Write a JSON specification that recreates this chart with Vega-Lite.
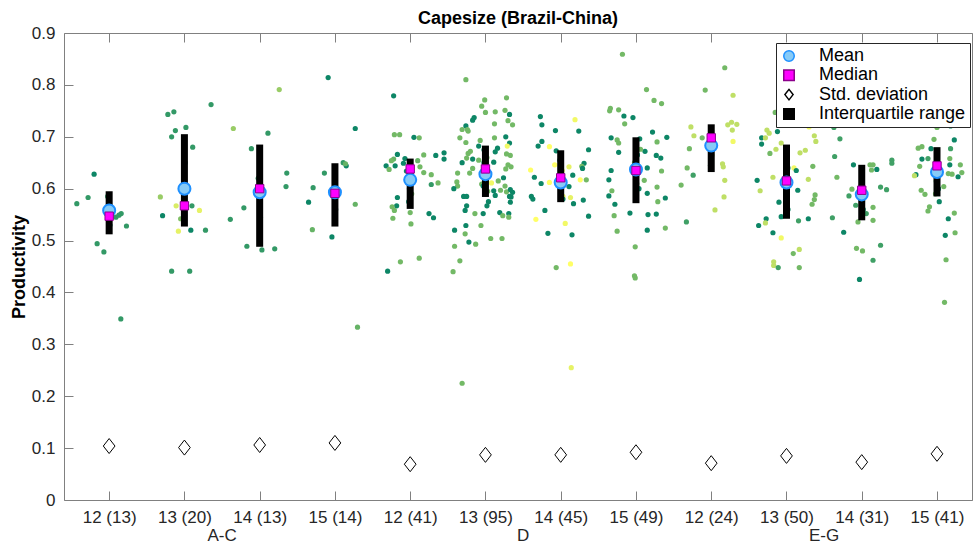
{
  "$schema": "https://vega.github.io/schema/vega-lite/v6.json",
  "autosize": {"type": "none"},
  "width": 908,
  "height": 467,
  "padding": {"left": 64, "top": 33, "right": 1, "bottom": 45},
  "background": "white",
  "title": {
    "text": "Capesize (Brazil-China)",
    "font": "Liberation Sans",
    "fontSize": 18,
    "fontWeight": "bold",
    "color": "black",
    "anchor": "middle",
    "frame": "group",
    "offset": -4
  },
  "datasets": {
    "pts": [
      {"x": 0.80, "y": 0.628, "c": 0.05}, {"x": 0.72, "y": 0.583, "c": 0.2}, {"x": 0.57, "y": 0.571, "c": 0.2},
      {"x": 1.16, "y": 0.552, "c": 0.2}, {"x": 1.13, "y": 0.549, "c": 0.2}, {"x": 1.09, "y": 0.545, "c": 0.2},
      {"x": 1.23, "y": 0.528, "c": 0.2}, {"x": 0.84, "y": 0.494, "c": 0.2}, {"x": 0.93, "y": 0.478, "c": 0.2},
      {"x": 1.155, "y": 0.349, "c": 0.2}, {"x": 1.02, "y": 0.565, "c": 0.2}, {"x": 0.98, "y": 0.585, "c": 0.2},
      {"x": 1.01, "y": 0.530, "c": 0.05},

      {"x": 2.354, "y": 0.762, "c": 0.2}, {"x": 1.78, "y": 0.743, "c": 0.2}, {"x": 1.86, "y": 0.748, "c": 0.2},
      {"x": 1.88, "y": 0.712, "c": 0.2}, {"x": 2.02, "y": 0.718, "c": 0.2}, {"x": 1.83, "y": 0.700, "c": 0.2},
      {"x": 2.11, "y": 0.680, "c": 0.2}, {"x": 1.68, "y": 0.584, "c": 0.6}, {"x": 1.89, "y": 0.567, "c": 0.85},
      {"x": 2.10, "y": 0.567, "c": 0.2}, {"x": 2.20, "y": 0.558, "c": 0.9}, {"x": 1.71, "y": 0.548, "c": 0.05},
      {"x": 1.95, "y": 0.542, "c": 0.5}, {"x": 1.92, "y": 0.518, "c": 0.9}, {"x": 2.085, "y": 0.520, "c": 0.05},
      {"x": 2.28, "y": 0.520, "c": 0.2}, {"x": 1.83, "y": 0.441, "c": 0.2}, {"x": 2.07, "y": 0.441, "c": 0.2},
      {"x": 2.01, "y": 0.650, "c": 0.2}, {"x": 1.99, "y": 0.612, "c": 0.2},

      {"x": 3.26, "y": 0.791, "c": 0.6}, {"x": 2.65, "y": 0.716, "c": 0.6}, {"x": 3.11, "y": 0.707, "c": 0.2},
      {"x": 2.89, "y": 0.677, "c": 0.2}, {"x": 3.36, "y": 0.630, "c": 0.2}, {"x": 3.35, "y": 0.604, "c": 0.2},
      {"x": 2.79, "y": 0.563, "c": 0.2}, {"x": 2.61, "y": 0.541, "c": 0.2}, {"x": 2.83, "y": 0.489, "c": 0.2},
      {"x": 3.03, "y": 0.482, "c": 0.2}, {"x": 3.20, "y": 0.484, "c": 0.2}, {"x": 2.98, "y": 0.620, "c": 0.2},
      {"x": 3.01, "y": 0.545, "c": 0.2},

      {"x": 3.91, "y": 0.814, "c": 0.05}, {"x": 4.27, "y": 0.716, "c": 0.05}, {"x": 4.11, "y": 0.650, "c": 0.2},
      {"x": 4.15, "y": 0.644, "c": 0.05}, {"x": 4.14, "y": 0.648, "c": 0.4}, {"x": 3.86, "y": 0.630, "c": 0.2},
      {"x": 3.71, "y": 0.602, "c": 0.2}, {"x": 3.65, "y": 0.574, "c": 0.05}, {"x": 4.27, "y": 0.570, "c": 0.4},
      {"x": 3.70, "y": 0.521, "c": 0.4}, {"x": 3.96, "y": 0.507, "c": 0.05}, {"x": 4.30, "y": 0.333, "c": 0.4},
      {"x": 4.00, "y": 0.600, "c": 0.2}, {"x": 4.01, "y": 0.560, "c": 0.2},

      {"x": 4.78, "y": 0.779, "c": 0.05}, {"x": 4.79, "y": 0.704, "c": 0.45}, {"x": 4.86, "y": 0.704, "c": 0.45},
      {"x": 5.05, "y": 0.699, "c": 0.05}, {"x": 5.12, "y": 0.698, "c": 0.45}, {"x": 4.83, "y": 0.666, "c": 0.05},
      {"x": 4.93, "y": 0.658, "c": 0.05}, {"x": 4.78, "y": 0.657, "c": 0.4}, {"x": 4.75, "y": 0.654, "c": 0.45},
      {"x": 4.68, "y": 0.644, "c": 0.05}, {"x": 4.72, "y": 0.637, "c": 0.45}, {"x": 4.80, "y": 0.644, "c": 0.05},
      {"x": 4.91, "y": 0.649, "c": 0.05}, {"x": 4.95, "y": 0.634, "c": 0.05}, {"x": 5.10, "y": 0.654, "c": 0.4},
      {"x": 5.13, "y": 0.642, "c": 0.45}, {"x": 5.18, "y": 0.665, "c": 0.45}, {"x": 5.18, "y": 0.631, "c": 0.45},
      {"x": 5.28, "y": 0.627, "c": 0.45}, {"x": 5.34, "y": 0.664, "c": 0.05}, {"x": 5.45, "y": 0.669, "c": 0.05},
      {"x": 5.45, "y": 0.657, "c": 0.05}, {"x": 5.28, "y": 0.608, "c": 0.2}, {"x": 5.37, "y": 0.611, "c": 0.45},
      {"x": 4.83, "y": 0.583, "c": 0.05}, {"x": 4.82, "y": 0.567, "c": 0.05}, {"x": 4.76, "y": 0.565, "c": 0.45},
      {"x": 4.79, "y": 0.558, "c": 0.45}, {"x": 5.00, "y": 0.554, "c": 0.45}, {"x": 4.77, "y": 0.543, "c": 0.45},
      {"x": 5.25, "y": 0.552, "c": 0.05}, {"x": 5.31, "y": 0.544, "c": 0.05}, {"x": 5.01, "y": 0.532, "c": 0.45},
      {"x": 4.87, "y": 0.459, "c": 0.45}, {"x": 5.12, "y": 0.466, "c": 0.45}, {"x": 4.70, "y": 0.441, "c": 0.05},
      {"x": 5.01, "y": 0.620, "c": 0.45}, {"x": 4.99, "y": 0.600, "c": 0.05}, {"x": 5.02, "y": 0.590, "c": 0.45},
      {"x": 4.98, "y": 0.575, "c": 0.05}, {"x": 5.00, "y": 0.645, "c": 0.45},

      {"x": 5.74, "y": 0.810, "c": 0.45}, {"x": 5.99, "y": 0.771, "c": 0.45}, {"x": 6.28, "y": 0.775, "c": 0.45},
      {"x": 5.95, "y": 0.759, "c": 0.45}, {"x": 6.00, "y": 0.747, "c": 0.45}, {"x": 6.13, "y": 0.748, "c": 0.45},
      {"x": 6.26, "y": 0.751, "c": 0.45}, {"x": 6.32, "y": 0.743, "c": 0.05}, {"x": 5.85, "y": 0.737, "c": 0.05},
      {"x": 5.83, "y": 0.732, "c": 0.05}, {"x": 6.12, "y": 0.725, "c": 0.45}, {"x": 6.30, "y": 0.731, "c": 0.45},
      {"x": 6.36, "y": 0.723, "c": 0.45}, {"x": 5.74, "y": 0.721, "c": 0.05}, {"x": 5.69, "y": 0.714, "c": 0.45},
      {"x": 5.76, "y": 0.714, "c": 0.45}, {"x": 5.77, "y": 0.711, "c": 0.45}, {"x": 5.66, "y": 0.698, "c": 0.45},
      {"x": 5.74, "y": 0.689, "c": 0.45}, {"x": 5.93, "y": 0.693, "c": 0.45}, {"x": 6.12, "y": 0.698, "c": 0.45},
      {"x": 6.27, "y": 0.700, "c": 0.05}, {"x": 6.32, "y": 0.688, "c": 0.05}, {"x": 5.91, "y": 0.682, "c": 0.05},
      {"x": 6.29, "y": 0.682, "c": 0.95}, {"x": 6.16, "y": 0.678, "c": 0.05}, {"x": 6.13, "y": 0.671, "c": 0.05},
      {"x": 6.28, "y": 0.667, "c": 0.45}, {"x": 6.33, "y": 0.664, "c": 0.45}, {"x": 5.80, "y": 0.672, "c": 0.45},
      {"x": 5.77, "y": 0.668, "c": 0.45}, {"x": 5.75, "y": 0.659, "c": 0.45}, {"x": 5.83, "y": 0.657, "c": 0.05},
      {"x": 5.91, "y": 0.655, "c": 0.45}, {"x": 5.69, "y": 0.650, "c": 0.05}, {"x": 6.11, "y": 0.651, "c": 0.05},
      {"x": 5.83, "y": 0.639, "c": 0.45}, {"x": 5.63, "y": 0.630, "c": 0.45}, {"x": 5.79, "y": 0.630, "c": 0.45},
      {"x": 6.30, "y": 0.646, "c": 0.45}, {"x": 6.34, "y": 0.642, "c": 0.45}, {"x": 6.27, "y": 0.638, "c": 0.45},
      {"x": 6.24, "y": 0.621, "c": 0.05}, {"x": 6.17, "y": 0.615, "c": 0.45}, {"x": 6.08, "y": 0.611, "c": 0.95},
      {"x": 5.95, "y": 0.609, "c": 0.45}, {"x": 5.62, "y": 0.613, "c": 0.45}, {"x": 5.63, "y": 0.605, "c": 0.45},
      {"x": 5.58, "y": 0.600, "c": 0.05}, {"x": 6.26, "y": 0.605, "c": 0.45}, {"x": 6.20, "y": 0.597, "c": 0.45},
      {"x": 6.11, "y": 0.596, "c": 0.05}, {"x": 6.13, "y": 0.587, "c": 0.05}, {"x": 6.28, "y": 0.594, "c": 0.45},
      {"x": 6.33, "y": 0.598, "c": 0.05}, {"x": 6.36, "y": 0.593, "c": 0.05}, {"x": 6.32, "y": 0.585, "c": 0.05},
      {"x": 6.34, "y": 0.584, "c": 0.05}, {"x": 6.33, "y": 0.574, "c": 0.05}, {"x": 5.71, "y": 0.585, "c": 0.05},
      {"x": 5.75, "y": 0.585, "c": 0.05}, {"x": 5.75, "y": 0.567, "c": 0.05}, {"x": 5.73, "y": 0.558, "c": 0.05},
      {"x": 6.02, "y": 0.567, "c": 0.05}, {"x": 5.86, "y": 0.552, "c": 0.45}, {"x": 5.97, "y": 0.552, "c": 0.05},
      {"x": 6.19, "y": 0.554, "c": 0.05}, {"x": 6.23, "y": 0.548, "c": 0.45}, {"x": 6.31, "y": 0.552, "c": 0.05},
      {"x": 6.31, "y": 0.545, "c": 0.45}, {"x": 5.74, "y": 0.529, "c": 0.05}, {"x": 5.94, "y": 0.529, "c": 0.45},
      {"x": 5.59, "y": 0.520, "c": 0.05}, {"x": 5.73, "y": 0.513, "c": 0.45}, {"x": 5.78, "y": 0.497, "c": 0.05},
      {"x": 5.87, "y": 0.493, "c": 0.45}, {"x": 6.07, "y": 0.504, "c": 0.45}, {"x": 6.22, "y": 0.504, "c": 0.45},
      {"x": 5.59, "y": 0.489, "c": 0.45}, {"x": 5.66, "y": 0.461, "c": 0.45}, {"x": 5.57, "y": 0.440, "c": 0.45},
      {"x": 5.69, "y": 0.225, "c": 0.45}, {"x": 6.00, "y": 0.665, "c": 0.45}, {"x": 5.98, "y": 0.650, "c": 0.05},
      {"x": 6.02, "y": 0.640, "c": 0.45}, {"x": 5.99, "y": 0.625, "c": 0.05}, {"x": 6.01, "y": 0.615, "c": 0.45},
      {"x": 5.97, "y": 0.605, "c": 0.05}, {"x": 6.03, "y": 0.595, "c": 0.45}, {"x": 6.00, "y": 0.590, "c": 0.05},
      {"x": 5.98, "y": 0.675, "c": 0.05}, {"x": 6.02, "y": 0.660, "c": 0.45}, {"x": 6.01, "y": 0.632, "c": 0.05},
      {"x": 5.99, "y": 0.612, "c": 0.45}, {"x": 6.04, "y": 0.575, "c": 0.05},

      {"x": 6.73, "y": 0.739, "c": 0.05}, {"x": 6.75, "y": 0.723, "c": 0.05}, {"x": 7.19, "y": 0.733, "c": 0.95},
      {"x": 6.93, "y": 0.712, "c": 0.05}, {"x": 7.24, "y": 0.711, "c": 0.05}, {"x": 6.75, "y": 0.691, "c": 0.05},
      {"x": 6.70, "y": 0.682, "c": 0.05}, {"x": 6.85, "y": 0.681, "c": 1.0}, {"x": 6.94, "y": 0.673, "c": 0.05},
      {"x": 7.37, "y": 0.675, "c": 0.05}, {"x": 6.92, "y": 0.646, "c": 1.0}, {"x": 7.11, "y": 0.642, "c": 0.9},
      {"x": 7.31, "y": 0.649, "c": 0.05}, {"x": 7.28, "y": 0.643, "c": 0.45}, {"x": 7.29, "y": 0.639, "c": 0.05},
      {"x": 6.60, "y": 0.636, "c": 1.0}, {"x": 7.16, "y": 0.626, "c": 0.05}, {"x": 6.65, "y": 0.622, "c": 0.05},
      {"x": 7.26, "y": 0.617, "c": 1.0}, {"x": 7.34, "y": 0.617, "c": 0.45}, {"x": 6.74, "y": 0.610, "c": 0.05},
      {"x": 6.85, "y": 0.612, "c": 1.0}, {"x": 7.11, "y": 0.604, "c": 0.05}, {"x": 6.61, "y": 0.585, "c": 0.05},
      {"x": 6.63, "y": 0.580, "c": 0.05}, {"x": 7.13, "y": 0.583, "c": 0.9}, {"x": 7.30, "y": 0.578, "c": 0.05},
      {"x": 7.17, "y": 0.571, "c": 0.05}, {"x": 7.03, "y": 0.585, "c": 0.9}, {"x": 6.79, "y": 0.558, "c": 0.05},
      {"x": 7.37, "y": 0.547, "c": 0.05}, {"x": 6.67, "y": 0.541, "c": 1.0}, {"x": 7.06, "y": 0.533, "c": 0.95},
      {"x": 6.83, "y": 0.514, "c": 0.05}, {"x": 7.15, "y": 0.511, "c": 0.05}, {"x": 6.94, "y": 0.448, "c": 0.45},
      {"x": 7.13, "y": 0.455, "c": 1.0}, {"x": 7.14, "y": 0.255, "c": 0.9}, {"x": 7.00, "y": 0.600, "c": 0.05},
      {"x": 6.98, "y": 0.625, "c": 0.05}, {"x": 7.02, "y": 0.635, "c": 0.9}, {"x": 7.01, "y": 0.590, "c": 0.05},
      {"x": 6.99, "y": 0.655, "c": 0.05}, {"x": 7.03, "y": 0.580, "c": 0.05}, {"x": 7.00, "y": 0.665, "c": 0.45},

      {"x": 7.82, "y": 0.859, "c": 0.45}, {"x": 8.14, "y": 0.791, "c": 0.45}, {"x": 8.24, "y": 0.770, "c": 0.45},
      {"x": 8.34, "y": 0.764, "c": 0.45}, {"x": 7.66, "y": 0.755, "c": 0.45}, {"x": 7.65, "y": 0.750, "c": 0.45},
      {"x": 7.77, "y": 0.752, "c": 0.45}, {"x": 7.84, "y": 0.740, "c": 0.05}, {"x": 7.96, "y": 0.737, "c": 0.05},
      {"x": 7.85, "y": 0.725, "c": 0.45}, {"x": 8.22, "y": 0.709, "c": 0.05}, {"x": 7.67, "y": 0.698, "c": 0.05},
      {"x": 7.75, "y": 0.694, "c": 0.45}, {"x": 7.77, "y": 0.688, "c": 0.45}, {"x": 8.05, "y": 0.696, "c": 0.05},
      {"x": 8.41, "y": 0.699, "c": 0.05}, {"x": 8.28, "y": 0.690, "c": 0.45}, {"x": 8.12, "y": 0.672, "c": 0.05},
      {"x": 7.77, "y": 0.670, "c": 0.05}, {"x": 8.27, "y": 0.664, "c": 0.05}, {"x": 8.33, "y": 0.659, "c": 0.05},
      {"x": 8.06, "y": 0.676, "c": 0.45}, {"x": 7.67, "y": 0.635, "c": 0.05}, {"x": 8.15, "y": 0.640, "c": 0.05},
      {"x": 8.34, "y": 0.634, "c": 0.45}, {"x": 7.64, "y": 0.617, "c": 0.05}, {"x": 8.11, "y": 0.616, "c": 0.45},
      {"x": 8.28, "y": 0.603, "c": 0.45}, {"x": 7.68, "y": 0.596, "c": 0.45}, {"x": 8.04, "y": 0.600, "c": 0.05},
      {"x": 7.64, "y": 0.586, "c": 0.05}, {"x": 8.15, "y": 0.591, "c": 0.05}, {"x": 8.39, "y": 0.582, "c": 0.05},
      {"x": 8.29, "y": 0.575, "c": 0.45}, {"x": 7.72, "y": 0.570, "c": 0.05}, {"x": 7.71, "y": 0.548, "c": 0.45},
      {"x": 7.92, "y": 0.553, "c": 0.05}, {"x": 8.16, "y": 0.550, "c": 0.05}, {"x": 8.27, "y": 0.551, "c": 0.05},
      {"x": 7.75, "y": 0.518, "c": 0.45}, {"x": 8.15, "y": 0.520, "c": 0.05}, {"x": 8.39, "y": 0.524, "c": 0.45},
      {"x": 7.99, "y": 0.488, "c": 0.45}, {"x": 7.98, "y": 0.432, "c": 0.45}, {"x": 7.99, "y": 0.428, "c": 0.45},
      {"x": 8.00, "y": 0.620, "c": 0.05}, {"x": 7.98, "y": 0.650, "c": 0.45}, {"x": 8.02, "y": 0.665, "c": 0.05},
      {"x": 8.01, "y": 0.610, "c": 0.45},

      {"x": 9.18, "y": 0.833, "c": 0.45}, {"x": 8.92, "y": 0.790, "c": 0.45}, {"x": 9.29, "y": 0.780, "c": 0.75},
      {"x": 8.73, "y": 0.719, "c": 0.75}, {"x": 8.77, "y": 0.702, "c": 0.75}, {"x": 8.88, "y": 0.698, "c": 0.45},
      {"x": 8.71, "y": 0.677, "c": 0.45}, {"x": 9.22, "y": 0.723, "c": 0.75}, {"x": 9.27, "y": 0.728, "c": 0.75},
      {"x": 9.34, "y": 0.724, "c": 0.75}, {"x": 9.28, "y": 0.713, "c": 0.75}, {"x": 9.29, "y": 0.691, "c": 0.95},
      {"x": 8.68, "y": 0.640, "c": 0.45}, {"x": 8.76, "y": 0.626, "c": 0.25}, {"x": 8.60, "y": 0.607, "c": 0.45},
      {"x": 9.15, "y": 0.648, "c": 0.75}, {"x": 9.16, "y": 0.642, "c": 0.75}, {"x": 9.18, "y": 0.616, "c": 0.75},
      {"x": 9.17, "y": 0.584, "c": 0.75}, {"x": 9.05, "y": 0.559, "c": 0.75}, {"x": 8.67, "y": 0.536, "c": 0.25},
      {"x": 9.00, "y": 0.690, "c": 0.45}, {"x": 9.01, "y": 0.665, "c": 0.75}, {"x": 8.99, "y": 0.645, "c": 0.25},

      {"x": 9.85, "y": 0.747, "c": 0.45}, {"x": 9.74, "y": 0.713, "c": 0.75}, {"x": 9.88, "y": 0.710, "c": 0.05},
      {"x": 9.67, "y": 0.698, "c": 0.05}, {"x": 9.72, "y": 0.698, "c": 0.75}, {"x": 9.77, "y": 0.707, "c": 0.75},
      {"x": 9.67, "y": 0.686, "c": 0.05}, {"x": 9.93, "y": 0.688, "c": 0.75}, {"x": 9.86, "y": 0.676, "c": 0.75},
      {"x": 9.78, "y": 0.668, "c": 0.45}, {"x": 10.18, "y": 0.669, "c": 0.75}, {"x": 10.25, "y": 0.674, "c": 0.75},
      {"x": 10.30, "y": 0.719, "c": 0.95}, {"x": 10.37, "y": 0.702, "c": 0.75}, {"x": 10.39, "y": 0.691, "c": 0.75},
      {"x": 10.35, "y": 0.643, "c": 0.45}, {"x": 10.10, "y": 0.640, "c": 0.95}, {"x": 10.13, "y": 0.635, "c": 0.05},
      {"x": 9.82, "y": 0.622, "c": 0.75}, {"x": 9.61, "y": 0.616, "c": 0.05}, {"x": 10.29, "y": 0.618, "c": 0.75},
      {"x": 9.65, "y": 0.596, "c": 0.75}, {"x": 10.15, "y": 0.597, "c": 0.05}, {"x": 10.38, "y": 0.588, "c": 0.45},
      {"x": 10.37, "y": 0.579, "c": 0.45}, {"x": 10.34, "y": 0.570, "c": 0.45}, {"x": 9.90, "y": 0.574, "c": 0.05},
      {"x": 9.73, "y": 0.542, "c": 0.05}, {"x": 9.63, "y": 0.529, "c": 0.05}, {"x": 9.72, "y": 0.534, "c": 0.75},
      {"x": 9.93, "y": 0.546, "c": 0.05}, {"x": 10.16, "y": 0.538, "c": 0.25}, {"x": 10.29, "y": 0.542, "c": 0.05},
      {"x": 9.82, "y": 0.515, "c": 0.05}, {"x": 9.93, "y": 0.505, "c": 0.95}, {"x": 10.17, "y": 0.483, "c": 0.75},
      {"x": 10.09, "y": 0.475, "c": 0.45}, {"x": 9.83, "y": 0.459, "c": 0.75}, {"x": 9.83, "y": 0.452, "c": 0.75},
      {"x": 9.89, "y": 0.448, "c": 0.25}, {"x": 10.17, "y": 0.448, "c": 0.45}, {"x": 10.00, "y": 0.660, "c": 0.75},
      {"x": 10.02, "y": 0.640, "c": 0.05}, {"x": 9.98, "y": 0.620, "c": 0.45}, {"x": 10.01, "y": 0.600, "c": 0.05},
      {"x": 9.99, "y": 0.580, "c": 0.75}, {"x": 10.02, "y": 0.560, "c": 0.05}, {"x": 10.00, "y": 0.775, "c": 0.45},
      {"x": 10.20, "y": 0.760, "c": 0.75}, {"x": 9.95, "y": 0.800, "c": 0.45},

      {"x": 10.63, "y": 0.718, "c": 0.25}, {"x": 10.71, "y": 0.696, "c": 0.25}, {"x": 10.64, "y": 0.662, "c": 0.25},
      {"x": 10.89, "y": 0.646, "c": 0.05}, {"x": 11.11, "y": 0.646, "c": 0.45}, {"x": 11.15, "y": 0.646, "c": 0.45},
      {"x": 11.20, "y": 0.637, "c": 0.05}, {"x": 11.13, "y": 0.636, "c": 0.45}, {"x": 11.40, "y": 0.655, "c": 0.25},
      {"x": 11.40, "y": 0.649, "c": 0.25}, {"x": 10.67, "y": 0.622, "c": 0.45}, {"x": 11.25, "y": 0.603, "c": 0.25},
      {"x": 11.33, "y": 0.598, "c": 0.25}, {"x": 10.87, "y": 0.599, "c": 0.45}, {"x": 10.83, "y": 0.586, "c": 0.25},
      {"x": 10.92, "y": 0.568, "c": 0.25}, {"x": 11.15, "y": 0.564, "c": 0.45}, {"x": 11.06, "y": 0.552, "c": 0.25},
      {"x": 10.61, "y": 0.544, "c": 0.25}, {"x": 10.95, "y": 0.536, "c": 0.45}, {"x": 11.15, "y": 0.539, "c": 0.45},
      {"x": 10.76, "y": 0.516, "c": 0.05}, {"x": 10.93, "y": 0.485, "c": 0.45}, {"x": 11.01, "y": 0.480, "c": 0.45},
      {"x": 11.25, "y": 0.491, "c": 0.25}, {"x": 11.15, "y": 0.462, "c": 0.25}, {"x": 10.97, "y": 0.425, "c": 0.05},
      {"x": 11.00, "y": 0.620, "c": 0.25}, {"x": 11.01, "y": 0.575, "c": 0.45}, {"x": 10.99, "y": 0.605, "c": 0.25},
      {"x": 11.02, "y": 0.560, "c": 0.05},

      {"x": 12.00, "y": 0.718, "c": 0.45}, {"x": 12.18, "y": 0.721, "c": 0.05}, {"x": 11.96, "y": 0.695, "c": 0.45},
      {"x": 12.23, "y": 0.694, "c": 0.05}, {"x": 11.75, "y": 0.678, "c": 0.45}, {"x": 11.80, "y": 0.681, "c": 0.45},
      {"x": 11.92, "y": 0.677, "c": 0.05}, {"x": 12.18, "y": 0.677, "c": 0.25}, {"x": 11.88, "y": 0.658, "c": 0.25},
      {"x": 11.80, "y": 0.657, "c": 0.05}, {"x": 12.17, "y": 0.658, "c": 0.45}, {"x": 12.17, "y": 0.646, "c": 0.05},
      {"x": 12.31, "y": 0.646, "c": 0.45}, {"x": 11.77, "y": 0.643, "c": 0.45}, {"x": 12.33, "y": 0.631, "c": 0.45},
      {"x": 12.15, "y": 0.629, "c": 0.45}, {"x": 12.20, "y": 0.628, "c": 0.45}, {"x": 12.28, "y": 0.623, "c": 0.05},
      {"x": 11.72, "y": 0.627, "c": 0.05}, {"x": 11.70, "y": 0.625, "c": 0.75}, {"x": 12.09, "y": 0.604, "c": 0.45},
      {"x": 11.79, "y": 0.597, "c": 0.45}, {"x": 11.84, "y": 0.589, "c": 0.45}, {"x": 12.03, "y": 0.575, "c": 0.05},
      {"x": 11.90, "y": 0.565, "c": 0.45}, {"x": 11.88, "y": 0.557, "c": 0.45}, {"x": 12.23, "y": 0.553, "c": 0.45},
      {"x": 12.15, "y": 0.542, "c": 0.05}, {"x": 12.24, "y": 0.515, "c": 0.45}, {"x": 12.11, "y": 0.510, "c": 0.05},
      {"x": 12.12, "y": 0.463, "c": 0.45}, {"x": 12.10, "y": 0.381, "c": 0.45}, {"x": 12.00, "y": 0.665, "c": 0.45},
      {"x": 12.01, "y": 0.650, "c": 0.05}, {"x": 11.99, "y": 0.615, "c": 0.45}, {"x": 12.02, "y": 0.600, "c": 0.05},
      {"x": 11.98, "y": 0.590, "c": 0.45}, {"x": 12.00, "y": 0.760, "c": 0.45}, {"x": 12.20, "y": 0.745, "c": 0.05},
      {"x": 11.90, "y": 0.735, "c": 0.45}, {"x": 12.30, "y": 0.780, "c": 0.45}
    ],
    "iqr": [
      {"pos": 1, "q1": 0.512, "q3": 0.595}, {"pos": 2, "q1": 0.527, "q3": 0.705},
      {"pos": 3, "q1": 0.488, "q3": 0.685}, {"pos": 4, "q1": 0.527, "q3": 0.649},
      {"pos": 5, "q1": 0.561, "q3": 0.658}, {"pos": 6, "q1": 0.584, "q3": 0.683},
      {"pos": 7, "q1": 0.574, "q3": 0.674}, {"pos": 8, "q1": 0.572, "q3": 0.699},
      {"pos": 9, "q1": 0.632, "q3": 0.724}, {"pos": 10, "q1": 0.542, "q3": 0.685},
      {"pos": 11, "q1": 0.539, "q3": 0.646}, {"pos": 12, "q1": 0.585, "q3": 0.680}
    ],
    "summary": [
      {"pos": 1, "stat": "Mean", "value": 0.558}, {"pos": 1, "stat": "Median", "value": 0.547}, {"pos": 1, "stat": "Std. deviation", "value": 0.104},
      {"pos": 2, "stat": "Mean", "value": 0.600}, {"pos": 2, "stat": "Median", "value": 0.567}, {"pos": 2, "stat": "Std. deviation", "value": 0.101},
      {"pos": 3, "stat": "Mean", "value": 0.593}, {"pos": 3, "stat": "Median", "value": 0.600}, {"pos": 3, "stat": "Std. deviation", "value": 0.106},
      {"pos": 4, "stat": "Mean", "value": 0.593}, {"pos": 4, "stat": "Median", "value": 0.591}, {"pos": 4, "stat": "Std. deviation", "value": 0.110},
      {"pos": 5, "stat": "Mean", "value": 0.617}, {"pos": 5, "stat": "Median", "value": 0.638}, {"pos": 5, "stat": "Std. deviation", "value": 0.069},
      {"pos": 6, "stat": "Mean", "value": 0.628}, {"pos": 6, "stat": "Median", "value": 0.638}, {"pos": 6, "stat": "Std. deviation", "value": 0.087},
      {"pos": 7, "stat": "Mean", "value": 0.612}, {"pos": 7, "stat": "Median", "value": 0.621}, {"pos": 7, "stat": "Std. deviation", "value": 0.087},
      {"pos": 8, "stat": "Mean", "value": 0.637}, {"pos": 8, "stat": "Median", "value": 0.635}, {"pos": 8, "stat": "Std. deviation", "value": 0.092},
      {"pos": 9, "stat": "Mean", "value": 0.683}, {"pos": 9, "stat": "Median", "value": 0.698}, {"pos": 9, "stat": "Std. deviation", "value": 0.071},
      {"pos": 10, "stat": "Mean", "value": 0.612}, {"pos": 10, "stat": "Median", "value": 0.615}, {"pos": 10, "stat": "Std. deviation", "value": 0.085},
      {"pos": 11, "stat": "Mean", "value": 0.589}, {"pos": 11, "stat": "Median", "value": 0.597}, {"pos": 11, "stat": "Std. deviation", "value": 0.073},
      {"pos": 12, "stat": "Mean", "value": 0.632}, {"pos": 12, "stat": "Median", "value": 0.644}, {"pos": 12, "stat": "Std. deviation", "value": 0.089}
    ],
    "groups": [
      {"pos": 2.5, "group": "A-C"},
      {"pos": 6.5, "group": "D"},
      {"pos": 10.5, "group": "E-G"}
    ]
  },
  "resolve": {"axis": {"x": "independent", "y": "independent"}},
  "layer": [
    {
      "data": {"name": "pts"},
      "mark": {"type": "circle", "size": 27, "opacity": 1, "stroke": null},
      "encoding": {
        "x": {
          "field": "x", "type": "quantitative",
          "scale": {"domain": [0.4, 12.465], "nice": false, "zero": false},
          "axis": {
            "orient": "bottom", "title": null,
            "values": [1, 2, 3, 4, 5, 6, 7, 8, 9, 10, 11, 12],
            "labelExpr": "['12 (13)','13 (20)','14 (13)','15 (14)','12 (41)','13 (95)','14 (45)','15 (49)','12 (24)','13 (50)','14 (31)','15 (41)'][datum.value - 1]",
            "tickSize": -9, "labelPadding": 18, "labelOverlap": false, "labelFlush": false
          }
        },
        "y": {
          "field": "y", "type": "quantitative",
          "scale": {"domain": [0, 0.9], "nice": false, "zero": false},
          "axis": {
            "orient": "left", "title": "Productivity",
            "values": [0, 0.1, 0.2, 0.3, 0.4, 0.5, 0.6, 0.7, 0.8, 0.9],
            "format": ".1~f", "tickSize": -9, "labelPadding": 18, "titlePadding": 3,
            "labelOverlap": false, "labelFlush": false
          }
        },
        "color": {
          "field": "c", "type": "quantitative",
          "scale": {"domain": [0, 1], "range": ["#008066", "#ffff66"], "interpolate": "rgb"},
          "legend": null
        }
      }
    },
    {
      "data": {"name": "iqr"},
      "mark": {"type": "rule", "strokeWidth": 7, "color": "black", "strokeCap": "butt"},
      "encoding": {
        "x": {
          "field": "pos", "type": "quantitative",
          "axis": {
            "orient": "top", "title": null, "labels": false,
            "values": [1, 2, 3, 4, 5, 6, 7, 8, 9, 10, 11, 12], "tickSize": -9
          }
        },
        "y": {
          "field": "q1", "type": "quantitative",
          "axis": {
            "orient": "right", "title": null, "labels": false,
            "values": [0, 0.1, 0.2, 0.3, 0.4, 0.5, 0.6, 0.7, 0.8, 0.9], "tickSize": 8
          }
        },
        "y2": {"field": "q3"}
      }
    },
    {
      "data": {"name": "summary"},
      "transform": [{"filter": "datum.stat === 'Mean'"}],
      "mark": {"type": "point", "filled": true, "size": 145, "strokeWidth": 2, "opacity": 1},
      "encoding": {
        "x": {"field": "pos", "type": "quantitative", "axis": null},
        "y": {"field": "value", "type": "quantitative", "axis": null},
        "shape": {
          "field": "stat", "type": "nominal",
          "scale": {
            "domain": ["Mean", "Median", "Std. deviation", "Interquartile range"],
            "range": ["circle", "square", "M0,-1L0.78,0L0,1L-0.78,0Z", "square"]
          },
          "legend": {
            "title": null, "orient": "none", "legendX": 712, "legendY": 10,
            "fillColor": "white", "strokeColor": "#262626", "padding": 4,
            "labelFont": "Liberation Sans", "labelFontSize": 18, "labelColor": "black",
            "symbolSize": 110, "symbolStrokeWidth": 1.5, "rowPadding": 1.3,
            "labelOffset": 21, "symbolOffset": 0, "labelLimit": 300
          }
        },
        "fill": {
          "field": "stat", "type": "nominal",
          "scale": {
            "domain": ["Mean", "Median", "Std. deviation", "Interquartile range"],
            "range": ["#87cbf7", "#ff00ff", "white", "black"]
          },
          "legend": {"title": null}
        },
        "stroke": {
          "field": "stat", "type": "nominal",
          "scale": {
            "domain": ["Mean", "Median", "Std. deviation", "Interquartile range"],
            "range": ["#1e90ff", "#8b008b", "black", "black"]
          },
          "legend": {"title": null}
        }
      }
    },
    {
      "data": {"name": "summary"},
      "transform": [{"filter": "datum.stat === 'Median'"}],
      "mark": {"type": "point", "filled": true, "size": 70, "strokeWidth": 1, "opacity": 1},
      "encoding": {
        "x": {"field": "pos", "type": "quantitative", "axis": null},
        "y": {"field": "value", "type": "quantitative", "axis": null},
        "shape": {"field": "stat", "type": "nominal", "legend": {"title": null}},
        "fill": {"field": "stat", "type": "nominal", "legend": {"title": null}},
        "stroke": {"field": "stat", "type": "nominal", "legend": {"title": null}}
      }
    },
    {
      "data": {"name": "summary"},
      "transform": [{"filter": "datum.stat === 'Std. deviation'"}],
      "mark": {"type": "point", "filled": true, "size": 225, "strokeWidth": 1, "opacity": 1},
      "encoding": {
        "x": {"field": "pos", "type": "quantitative", "axis": null},
        "y": {"field": "value", "type": "quantitative", "axis": null},
        "shape": {"field": "stat", "type": "nominal", "legend": {"title": null}},
        "fill": {"field": "stat", "type": "nominal", "legend": {"title": null}},
        "stroke": {"field": "stat", "type": "nominal", "legend": {"title": null}}
      }
    },
    {
      "data": {"name": "groups"},
      "mark": {
        "type": "text", "font": "Liberation Sans", "fontSize": 17,
        "color": "#262626", "align": "center", "baseline": "alphabetic"
      },
      "encoding": {
        "x": {"field": "pos", "type": "quantitative", "axis": null},
        "y": {"datum": -0.0798, "type": "quantitative", "axis": null},
        "text": {"field": "group"}
      }
    }
  ],
  "config": {
    "view": {"stroke": null},
    "axis": {
      "grid": false,
      "domainColor": "#808080",
      "tickColor": "#808080",
      "labelFont": "Liberation Sans",
      "labelFontSize": 17,
      "labelColor": "#262626",
      "titleFont": "Liberation Sans",
      "titleFontSize": 18,
      "titleFontWeight": "bold",
      "titleColor": "black"
    }
  }
}
